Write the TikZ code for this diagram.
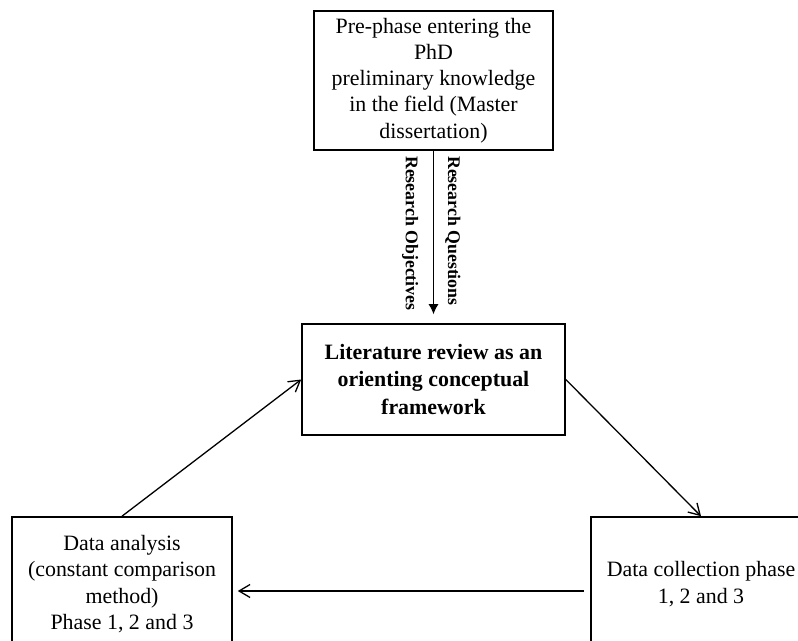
\documentclass[tikz,border=0pt]{standalone}
\usepackage{fontspec}
\setmainfont{Liberation Serif}
\usetikzlibrary{arrows.meta,positioning}

\begin{document}
\begin{tikzpicture}[x=0.5pt, y=-0.5pt,
    box/.style={draw, line width=0.8pt, align=center, inner sep=0pt, font=\fontsize{10.95}{13.1}\selectfont},
    flow/.style={line width=0.65pt, -{Straight Barb[length=5.5pt,width=6.5pt]}},
    rlabel/.style={rotate=-90, inner sep=0pt, font=\fontsize{8.9}{10.7}\selectfont\bfseries}]

    \useasboundingbox (0,0) rectangle (798,641);
    \clip (0,0) rectangle (798,641);

    \node[box, minimum width=119.5pt, minimum height=69.5pt] (prephase) at (433.5,80.5) {Pre-phase entering the\\PhD\\preliminary knowledge\\in the field (Master\\dissertation)};
    \node[box, minimum width=131.5pt, minimum height=55.5pt, font=\fontsize{10.95}{13.6}\selectfont\bfseries] (litrev) at (433.5,379.5) {Literature review as an\\orienting conceptual\\framework};
    \node[box, minimum width=110pt, minimum height=67pt] (danal) at (122,584) {Data analysis\\(constant comparison\\method)\\Phase 1, 2 and 3};
    \node[box, minimum width=110pt, minimum height=67pt] (dcoll) at (701,584) {Data collection phase\\1, 2 and 3};

    \draw[line width=0.5pt, -{Latex[length=5pt,width=5pt]}, shorten >=4.5pt] (prephase) -- (litrev);
    \node[rlabel, anchor=north west] (robj) at ([xshift=-7.5pt,yshift=-2.5pt]prephase.south) {Research Objectives};
    \node[rlabel, anchor=base west] (rques) at ([xshift=7.25pt,yshift=-2.5pt]prephase.south) {Research Questions};

    \draw[flow] (litrev.east) -- (dcoll.north);
    \draw[flow, shorten >=2.5pt, shorten <=3pt] ([yshift=-3.5pt]dcoll.west) -- ([yshift=-3.5pt]danal.east);
    \draw[flow] (danal.north) -- (litrev.west);
    % \draw[dashed] (dcoll.south) -- ++(0,20);
\end{tikzpicture}
\end{document}
